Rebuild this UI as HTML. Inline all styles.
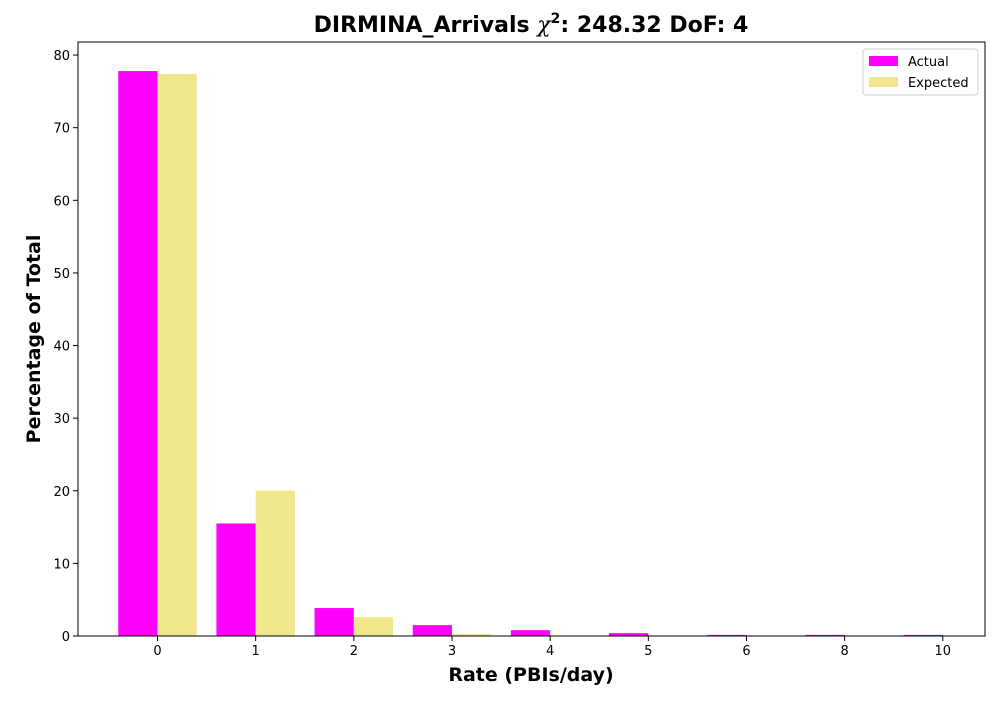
<!DOCTYPE html>
<html><head><meta charset="utf-8"><style>
body{margin:0;background:#fff;}
svg text{font-family:"DejaVu Sans","Liberation Sans",sans-serif;}
</style></head><body>
<svg id="chart" width="1000" height="700" xmlns="http://www.w3.org/2000/svg">
<rect x="0" y="0" width="1000" height="700" fill="#fff"/>
<text x="531" y="32" text-anchor="middle" font-size="22" font-weight="bold">DIRMINA_Arrivals <tspan font-style="italic" font-weight="normal" font-family="DejaVu Serif,serif">χ</tspan><tspan font-size="14" dy="-9">2</tspan><tspan dy="9">: 248.32 DoF: 4</tspan></text>
<g id="bars"></g>
<g id="axes"></g>
<text x="531" y="681" text-anchor="middle" font-size="19" font-weight="bold">Rate (PBIs/day)</text>
<text x="40" y="339" text-anchor="middle" font-size="19" font-weight="bold" transform="rotate(-90 40 339)">Percentage of Total</text>
<g>
<rect x="863" y="49" width="115" height="46" fill="#fff" stroke="#ccc" rx="3"/>
<rect x="869" y="56" width="29" height="10" fill="#ff00ff"/>
<text x="908" y="66" font-size="13">Actual</text>
<rect x="869" y="77" width="29" height="10" fill="#f0e68c"/>
<text x="908" y="87" font-size="13">Expected</text>
</g>
</svg>
<script>
const categories = ["0","1","2","3","4","5","6","8","10"];
const actualValues = [77.8, 15.5, 3.85, 1.5, 0.8, 0.4, 0.15, 0.15, 0.15];
const expectedValues = [77.4, 20.0, 2.6, 0.3, 0.03, 0, 0, 0, 0];
const yTicks = [0,10,20,30,40,50,60,70,80];

const NS="http://www.w3.org/2000/svg";
const L=78,R=985,T=42,B=636;
const xMin=-0.81,xMax=8.43,yMax=81.8;
const sx=v=>L+(v-xMin)/(xMax-xMin)*(R-L);
const sy=v=>B-v/yMax*(B-T);
const bars=document.getElementById('bars'), axes=document.getElementById('axes');
function mk(tag,attrs,parent){const e=document.createElementNS(NS,tag);for(const k in attrs)e.setAttribute(k,attrs[k]);parent.appendChild(e);return e;}
categories.forEach((c,i)=>{
  const a=mk('rect',{x:sx(i-0.4),y:sy(actualValues[i]),width:sx(i)-sx(i-0.4),height:B-sy(actualValues[i]),fill:'#ff00ff'},bars);
  
  
  const e=mk('rect',{x:sx(i),y:sy(expectedValues[i]),width:sx(i+0.4)-sx(i),height:B-sy(expectedValues[i]),fill:'#f0e68c'},bars);
  
  
  mk('line',{x1:sx(i),x2:sx(i),y1:B,y2:B+5,stroke:'#000'},axes);
  const t=mk('text',{x:sx(i),y:B+19,'text-anchor':'middle','font-size':'13'},axes);
  t.textContent=c;
  
  
});
yTicks.forEach(v=>{
  mk('line',{x1:L-5,x2:L,y1:sy(v),y2:sy(v),stroke:'#000'},axes);
  const t=mk('text',{x:L-8,y:sy(v)+5,'text-anchor':'end','font-size':'13'},axes);
  t.textContent=v;
  
  
});
const f=mk('rect',{x:L,y:T,width:R-L,height:B-T,fill:'none',stroke:'#000','stroke-width':1},axes);


</script>
</body></html>
